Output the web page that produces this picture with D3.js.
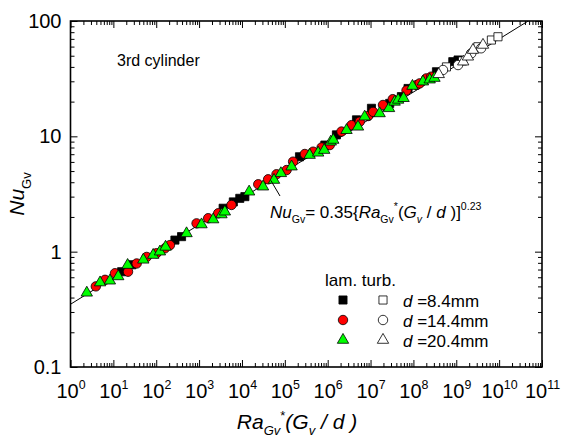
<!DOCTYPE html>
<html>
<head>
<meta charset="utf-8">
<script src="https://cdn.jsdelivr.net/npm/d3@7"></script>
<style>
  body { margin: 0; background: #fff; }
  svg { font-family: "Liberation Sans", Arial, sans-serif; }
</style>
</head>
<body>
<div id="chart"></div>
<script>
// [Ra*(Gv/d), Nu] pairs
const lam84 = [[15.6,0.67],[27,0.77],[273,1.26],[390,1.35],[3640,2.38],[6300,2.7],[8900,2.9],[11700,3.0],
  [2.2e5,6.65],[8.6e5,8.4],[1.6e6,10.3],[4.7e6,13.9],[1.05e7,17.5],[2.8e7,19.3],[5.25e7,22.1],[7.5e7,26],
  [3.45e8,36.3],[8.3e8,44.4],[1.1e9,45.9]];
const lam144 = [[3.9,0.50],[6.4,0.57],[10.9,0.65],[22,0.67],[35,0.79],[60,0.90],[102,0.97],[160,1.07],[209,1.14],
  [873,1.76],[1630,1.95],[2790,2.15],[5700,2.54],[24000,3.84],[40800,4.24],[64000,4.69],[1.1e5,5.1],[1.56e5,6.03],
  [2.93e5,7.03],[4.58e5,7.36],[7.2e5,8.0],[1.12e6,8.4],[2.1e6,11.0],[3.6e6,12.5],[5.6e6,13.4],[8.8e6,15.0],
  [1.15e7,16.3],[1.95e7,18.7],[3.3e7,21],[6.9e7,25],[1.2e8,27.9],[1.4e8,28.8],[2e8,31.8],[2.6e8,32.9]];
const lam204 = [[2.4,0.44],[4.9,0.54],[8.3,0.56],[13,0.61],[21.5,0.765],[50,0.85],[85,0.935],[122,1.0],[165,1.1],
  [510,1.44],[1140,1.72],[2130,1.9],[3330,2.1],[3990,2.22],[14700,3.31],[31000,3.66],[56000,4.18],[81000,4.78],
  [1.44e5,5.46],[3.8e5,6.88],[6e5,7.2],[8.3e5,7.6],[1.18e6,8.97],[1.35e6,9.3],[2.75e6,11.3],[5.1e6,12.1],
  [7.3e6,14.8],[1.63e7,15.8],[2.7e7,17.5],[3.65e7,19.9],[4.4e7,20.7],[5.9e7,21.4],[9.5e7,27.3],[1.67e8,29.8],
  [2.4e8,31],[3.1e8,32]];
const turb84 = [[5.9e8,40],[1.4e9,45],[3.2e9,59.8],[6.6e9,68.4],[9.4e9,73]];
const turb144 = [[4.9e8,37.6],[1.1e9,41.5],[2.24e9,52.4],[3.8e9,58]];
const turb204 = [[3.9e8,34.5],[1.45e9,44.4],[1.87e9,49],[2.45e9,56],[4.2e9,62]];

const legendLabels = ['8.4mm', '14.4mm', '20.4mm'];
const xDecades = d3.range(0, 12);          // 10^0 .. 10^11
const yMajor = [0.1, 1, 10, 100];
const yMajorLabels = ['0.1', '1', '10', '100'];
const fitCoef = 0.35, fitExp = 0.23;
const fitAnchorX = 4.7e4;                  // where the leader touches the fit line

const width = 563, height = 438;
const margin = { top: 21, right: 21, bottom: 71, left: 70.5 };
const innerW = width - margin.left - margin.right;
const innerH = height - margin.top - margin.bottom;

const svg = d3.select('#chart').append('svg')
  .attr('width', width).attr('height', height);
const g = svg.append('g').attr('transform', `translate(${margin.left},${margin.top})`);

const x = d3.scaleLog().domain([1, 1e11]).range([0, innerW]);
const y = d3.scaleLog().domain([0.1, 100]).range([innerH, 0]);

const xMinor = [], yMinor = [];
xDecades.slice(0, -1).forEach(k => d3.range(2, 10).forEach(m => xMinor.push(m * 10 ** k)));
[0.1, 1, 10].forEach(b => d3.range(2, 10).forEach(m => yMinor.push(+(m * b).toPrecision(3))));
const xMajor = xDecades.map(k => 10 ** k);

// rich text helper: parts = [text, italic, 'sub'|'sup'|null]
function rich(sel, parts, size, subShift = 0.32) {
  let shift = 0;
  parts.forEach(([t, it, pos]) => {
    const target = pos === 'sub' ? size * subShift : pos === 'sup' ? -size * 0.45 : 0;
    sel.append('tspan')
      .attr('dy', target - shift)
      .attr('font-size', pos ? size * 0.62 : size)
      .attr('font-style', it ? 'italic' : 'normal')
      .text(t);
    shift = target;
  });
}

function styleAxis(ax) {
  ax.select('.domain').remove();
  ax.selectAll('.tick line').attr('stroke', '#000').attr('stroke-width', 1);
}

// minor ticks, all four sides
[[d3.axisBottom(x).tickValues(xMinor), `translate(0,${innerH})`],
 [d3.axisTop(x).tickValues(xMinor), null],
 [d3.axisLeft(y).tickValues(yMinor), null],
 [d3.axisRight(y).tickValues(yMinor), `translate(${innerW},0)`]
].forEach(([ax, tr]) => {
  const a = g.append('g').call(ax.tickSize(-4).tickFormat(() => ''));
  if (tr) a.attr('transform', tr);
  styleAxis(a);
});

// major ticks
const xAxisG = g.append('g').attr('transform', `translate(0,${innerH})`)
  .call(d3.axisBottom(x).tickValues(xMajor).tickSize(-7).tickFormat(() => ''));
styleAxis(xAxisG);
xAxisG.selectAll('.tick text').remove();
xAxisG.selectAll('.tick').each(function(d, i) {
  const t = d3.select(this).append('text')
    .attr('y', 31).attr('text-anchor', 'middle').attr('fill', '#000');
  rich(t, [['10', false, null], [String(xDecades[i]), false, 'sup']], 20);
});

g.append('g').call(d3.axisTop(x).tickValues(xMajor).tickSize(-7).tickFormat(() => '')).call(styleAxis);
g.append('g').attr('transform', `translate(${innerW},0)`)
  .call(d3.axisRight(y).tickValues(yMajor).tickSize(-7).tickFormat(() => '')).call(styleAxis);

const yAxisG = g.append('g')
  .call(d3.axisLeft(y).tickValues(yMajor).tickSize(-7).tickPadding(9)
    .tickFormat((d, i) => yMajorLabels[i]));
styleAxis(yAxisG);
yAxisG.selectAll('.tick text').attr('font-size', 20).attr('fill', '#000')
  .attr('font-family', '"Liberation Sans", Arial, sans-serif');

g.append('rect').attr('width', innerW).attr('height', innerH)
  .attr('fill', 'none').attr('stroke', '#000').attr('stroke-width', 1.6);

// fit line
g.append('clipPath').attr('id', 'clip').append('rect').attr('width', innerW).attr('height', innerH);
const fit = v => fitCoef * Math.pow(v, fitExp);
g.append('path')
  .attr('clip-path', 'url(#clip)')
  .datum(x.domain())
  .attr('fill', 'none').attr('stroke', '#000').attr('stroke-width', 1)
  .attr('d', d3.line().x(d => x(d)).y(d => y(fit(d))));

// markers
const sym = {
  square: d3.symbol(d3.symbolSquare, 66)(),
  circle: d3.symbol(d3.symbolCircle, 70)(),
  triangle: d3.symbol(d3.symbolTriangle, 56)(),
};
const series = [
  { data: lam84, shape: 'square', fill: '#000' },
  { data: lam144, shape: 'circle', fill: '#ff0000' },
  { data: lam204, shape: 'triangle', fill: '#00ff00' },
  { data: turb84, shape: 'square', fill: '#fff' },
  { data: turb144, shape: 'circle', fill: '#fff' },
  { data: turb204, shape: 'triangle', fill: '#fff' },
];
series.forEach(s => {
  g.append('g').selectAll('path').data(s.data).join('path')
    .attr('d', sym[s.shape])
    .attr('transform', d => `translate(${x(d[0])},${y(d[1])})`)
    .attr('fill', s.fill).attr('stroke', '#000').attr('stroke-width', 0.8);
});

// annotation
g.append('text').attr('x', 117 - margin.left).attr('y', 66 - margin.top)
  .attr('font-size', 16).text('3rd cylinder');

g.append('line')
  .attr('x1', x(fitAnchorX)).attr('y1', y(fit(fitAnchorX)))
  .attr('x2', 280 - margin.left).attr('y2', 196 - margin.top)
  .attr('stroke', '#000').attr('stroke-width', 1);

const eq = g.append('text').attr('x', 270 - margin.left).attr('y', 218 - margin.top);
rich(eq, [['Nu', true, null], ['Gv', false, 'sub'], ['= 0.35{', false, null], ['Ra', true, null],
  ['Gv', false, 'sub'], ['*', false, 'sup'], ['(', false, null], ['G', true, null], ['v', true, 'sub'],
  [' / ', false, null], ['d', true, null], [' )]', false, null], ['0.23', false, 'sup']], 17);

// legend
const lg = g.append('g');
lg.append('text').attr('x', 325 - margin.left).attr('y', 286 - margin.top)
  .attr('font-size', 17).text('lam. turb.');
legendLabels.forEach((lab, i) => {
  const cy = 300 + i * 20 - margin.top;
  lg.append('path').attr('d', sym[series[i].shape])
    .attr('transform', `translate(${343 - margin.left},${cy})`)
    .attr('fill', series[i].fill).attr('stroke', '#000').attr('stroke-width', 0.8);
  lg.append('path').attr('d', sym[series[i + 3].shape])
    .attr('transform', `translate(${383 - margin.left},${cy})`)
    .attr('fill', '#fff').attr('stroke', '#000').attr('stroke-width', 0.8);
  const t = lg.append('text').attr('x', 403 - margin.left).attr('y', cy + 7);
  rich(t, [['d', true, null], [' =' + lab, false, null]], 17);
});

// axis titles
const xt = svg.append('text').attr('x', 297).attr('y', 429).attr('text-anchor', 'middle');
rich(xt, [['Ra', true, null], ['Gv', true, 'sub'], ['*', false, 'sup'], ['(', true, null], ['G', true, null],
  ['v', true, 'sub'], [' / ', true, null], ['d', true, null], [' )', true, null]], 21, 0.27);

const yt = svg.append('text').attr('transform', 'translate(24,194) rotate(-90)').attr('text-anchor', 'middle');
rich(yt, [['Nu', true, null], ['Gv', false, 'sub']], 21);
</script>
</body>
</html>
